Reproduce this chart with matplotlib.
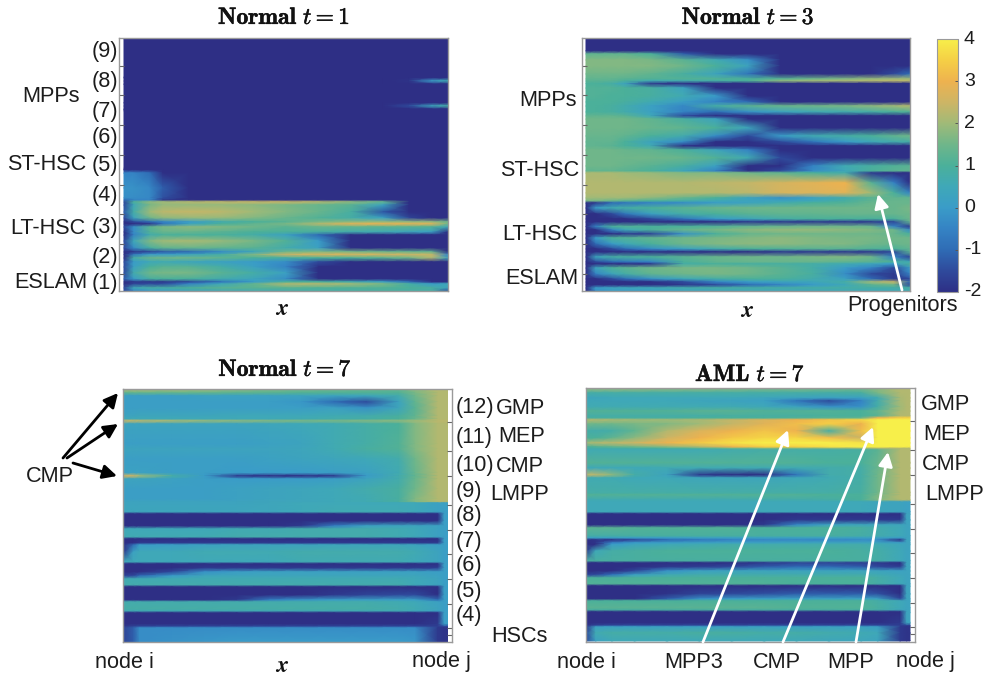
import matplotlib
matplotlib.use('Agg')
import numpy as np
import matplotlib.pyplot as plt
import matplotlib.patheffects as pe
from matplotlib.colors import LinearSegmentedColormap

plt.rcParams['font.family'] = ['Liberation Sans', 'DejaVu Sans']
plt.rcParams['mathtext.fontset'] = 'cm'

# colour scale
cbar_vals = [-2, -1.5, -1, -0.5, 0, 0.5, 1, 1.5, 2, 2.5, 3, 3.5, 4]
cbar_cols = ['#2e2f85', '#2f4a9c', '#2f6cb5', '#3583c4', '#3a9cc8', '#3fa8b8', '#4bb09a',
             '#6fb68a', '#a0ba78', '#cdb565', '#eeb24f', '#f5cf45', '#f7ef4a']
cbar_ticks = [-2, -1, 0, 1, 2, 3, 4]

# t=1 panel: x in % of width, y in px from top
a_x = [0, 3, 8, 12, 20, 30, 40, 50, 60, 70, 80, 88, 95, 100]
a_y = [0, 40, 43, 46, 65, 68, 71, 132, 135, 150, 160, 162, 164, 167, 174, 180, 184, 186, 189, 194,
       197, 203, 210, 214, 216.5, 220, 224, 229, 235, 241, 244, 246, 250, 253]
a_z = [
    [-2, -2, -2, -2, -2, -2, -2, -2, -2, -2, -2, -2, -2, -2],
    [-2, -2, -2, -2, -2, -2, -2, -2, -2, -2, -2, -2, -2, -2],
    [-2, -2, -2, -2, -2, -2, -2, -2, -2, -2, -2, -1.9, 0, 0.6],
    [-2, -2, -2, -2, -2, -2, -2, -2, -2, -2, -2, -2, -2, -2],
    [-2, -2, -2, -2, -2, -2, -2, -2, -2, -2, -2, -2, -2, -2],
    [-2, -2, -2, -2, -2, -2, -2, -2, -2, -2, -2, -1.5, 0.3, 0.8],
    [-2, -2, -2, -2, -2, -2, -2, -2, -2, -2, -2, -2, -2, -2],
    [-2, -2, -2, -2, -2, -2, -2, -2, -2, -2, -2, -2, -2, -2],
    [-0.5, -0.5, -1, -2, -2, -2, -2, -2, -2, -2, -2, -2, -2, -2],
    [-0.2, -0.2, -0.4, -1.2, -2, -2, -2, -2, -2, -2, -2, -2, -2, -2],
    [-0.3, -0.3, -0.4, -1.4, -2, -2, -2, -2, -2, -2, -2, -2, -2, -2],
    [-1, -0.5, -0.5, -1.8, -2, -2, -2, -2, -2, -2, -2, -2, -2, -2],
    [-1.5, 1, 1.8, 2, 2.2, 2.3, 2.4, 2.4, 2.2, 1.8, 1.3, -2, -2, -2],
    [-1.5, 0.5, 1.6, 1.9, 1.9, 1.9, 1.8, 1.6, 1.4, 1.2, 0.3, -2, -2, -2],
    [-1.2, 0.8, 2, 2.3, 2.4, 2.3, 2, 1.7, 1.4, 0.9, -1.3, -2, -2, -2],
    [-1.5, 0.3, 1.5, 1.8, 1.9, 1.9, 1.7, 1.4, 1.1, 0.8, 0.2, -1.6, -2, -2],
    [-2, -1.5, -1, -0.5, 0, 0.7, 1, 1.2, 1.6, 1.8, 1.9, 1.9, 1.9, 1.5],
    [-2, -2, -1.8, -0.8, 0.3, 1, 1.3, 1.6, 2.2, 2.8, 2.9, 2.8, 2.7, 1.5],
    [-1.5, -0.3, 1.2, 1.6, 1.8, 1.7, 1.5, 1.2, 1.4, 1.3, 1.2, 1.2, 1.1, 0.5],
    [-2, -0.3, 1.1, 1.4, 1.4, 1.2, 1, 1, 0.9, 0.7, 0.6, 0.4, 0.2, -2],
    [-2, -0.5, 0.7, 1, 1, 1, 0.8, 0.2, -1, -2, -2, -2, -2, -2],
    [-1.5, 0.5, 1.7, 2, 2.1, 1.9, 1.6, 1.1, 0, -2, -2, -2, -2, -2],
    [-1.5, -0.3, 0.9, 1.3, 1.4, 1.3, 1.2, 0.7, 0.2, -2, -2, -2, -2, -2],
    [-2, -1.8, -1.5, -1.2, -1, -0.3, 0.4, 1.5, 1.7, 1.6, 1.5, 1.4, 1.4, -2],
    [-2, -0.8, 0, 0, 0.3, 0.8, 1.7, 2.5, 2.7, 2.7, 2.6, 2.5, 2.4, -0.5],
    [-2, 0.8, 1.4, 1.5, 1.5, 1.3, 1, 0.8, 1, 1, 1.2, 1.5, 2.2, 0.3],
    [-1.5, 0, 0.5, 0.6, 0.4, 0.2, 0, -0.3, -1.5, -2, -2, -2, -2, -2],
    [-1.5, 0.2, 1, 1.2, 1.2, 0.8, 0.2, -0.5, -2, -2, -2, -2, -2, -2],
    [-1.5, 0.7, 1.5, 1.6, 1.6, 1.2, 0.8, 0.2, -2, -2, -2, -2, -2, -2],
    [-1.2, 0, 0.9, 1, 1, 0.7, 0.4, -0.3, -2, -2, -2, -2, -2, -2],
    [-2, -1.8, -1.8, -1.8, -1.5, -0.8, 0, 1, 1, 0.7, 0.2, -1, -2, -2],
    [-2, -1.6, -1.5, -1.5, -0.5, 0.5, 1.3, 2.2, 2.2, 2, 1.6, 0.8, 0, 0.5],
    [-1.5, 0.5, 0.8, 0.8, 1, 1.2, 1.2, 1.2, 1.1, 1.1, 1.1, 1, 0.9, 0.3],
    [-1.5, -0.5, 0, 0, 0.3, 0.5, 0.6, 0.7, 0.8, 0.8, 0.9, 0.8, 0.8, -1.5],
]

# t=3 panel
b_x = [0, 3, 8, 12, 20, 30, 40, 50, 60, 70, 80, 88, 95, 100]
b_y = [0, 13, 16, 22, 28, 36, 41, 43, 45.5, 50, 58, 64, 68, 74, 78, 81, 90, 98, 104, 108, 112, 120,
       128, 133, 135, 145, 155, 160, 163, 165, 170, 176, 181, 184, 188.5, 192, 196, 200, 206, 211,
       214, 219, 224, 226, 230, 236, 241, 244, 247, 250, 253]
b_z = [
    [-2, -2, -2, -2, -2, -2, -2, -2, -2, -2, -2, -2, -2, -2],
    [-2, -2, -2, -2, -2, -2, -2, -2, -2, -2, -2, -2, -2, -2],
    [1.3, 1.3, 1.3, 1.3, 1, -1.2, -2, -2, -2, -2, -2, -2, -2, -2],
    [1.7, 1.7, 1.7, 1.7, 1.6, 1.2, 0.6, -0.2, -2, -2, -2, -2, -2, -2],
    [1.7, 1.7, 1.7, 1.7, 1.7, 1.5, 1, 0.3, -2, -2, -2, -2, -2, -2],
    [1.5, 1.5, 1.5, 1.5, 1.3, 0.9, 0.3, -0.8, -2, -2, -2, -2, -1.5, -1],
    [1.3, 1.3, 1.3, 1.2, 1.1, 1.1, 1.1, 1, 1.2, 1.5, 1.7, 1.9, 2, 2],
    [1.2, 1.2, 1.2, 1, 0.6, 0.7, 0.8, 1, 1.8, 2, 2.1, 2.2, 2.3, 2.3],
    [1, 1, 0.8, 0.3, -1.8, -2, -2, -2, -2, -2, -2, -2, -2, -2],
    [1.1, 1.1, 1.1, 1, 0.9, 0.3, -2, -2, -2, -2, -2, -2, -2, -2],
    [1.1, 1.1, 1, 1, 0.9, 0.6, 0, -2, -2, -2, -2, -2, -2, -2],
    [1, 1, 1, 0.9, 0.6, 0.1, -0.5, -1, -2, -2, -2, -2, -2, -2],
    [1, 1, 0.9, 0.7, 0.2, -0.4, 0.8, 1.2, 1.4, 1.5, 1.6, 1.8, 2, 2.2],
    [1, 1, 0.9, 0.7, 0.2, -0.5, -1, -0.2, 0.3, 0.6, 0.7, 0.8, 1, 1.1],
    [1.3, 1.3, 1.3, 1.2, 0.5, -1.5, -2, -2, -2, -2, -2, -2, -2, -2],
    [1.5, 1.5, 1.5, 1.5, 1.3, 0.9, 0.3, -2, -2, -2, -2, -2, -2, -2],
    [1.5, 1.5, 1.5, 1.5, 1.4, 1.3, 1, 0.4, -2, -2, -2, -2, -2, -2],
    [1.4, 1.4, 1.4, 1.3, 1, 0.7, -0.3, -1.5, 0, 0.6, 0.8, 1, 1.3, 1.5],
    [1.3, 1.3, 1.3, 1, 0.3, -0.3, -2, -2, -1.5, -0.8, 0, 0.5, 0.7, 0.8],
    [1.3, 1.3, 1.2, 1, 0.6, -2, -2, -2, -2, -2, -2, -2, -2, -2],
    [1.5, 1.5, 1.5, 1.4, 1.3, 1, 0.4, -0.5, -2, -2, -2, -2, -2, -2],
    [1.5, 1.5, 1.5, 1.5, 1.5, 1.4, 1.1, 0.6, -1.5, -2, -2, -2, -2, -2],
    [1.5, 1.5, 1.5, 1.4, 1.2, 0.9, 0.2, -2, -2, -0.5, 0.6, 0.9, 1.1, 1.2],
    [1.3, 1.3, 1.3, 1.2, 1, 0.4, -0.5, -2, -1.5, -0.3, 0.5, 1, 1.2, 1.3],
    [2.1, 2.1, 2.1, 2, 1.9, 1.7, 1.7, 1.5, 1.3, 1, 0.7, -1.8, -2, -2],
    [2.2, 2.2, 2.2, 2.2, 2.2, 2.2, 2.3, 2.4, 2.6, 2.8, 3, 1.2, -0.5, -2],
    [2.2, 2.2, 2.2, 2.2, 2.2, 2.2, 2.2, 2.3, 2.6, 2.7, 2.8, 2, 1, -0.5],
    [2, 2, 2, 2, 1.8, 1.4, 1, 0.3, -0.2, 0.2, 0.7, 1.2, 1.3, 1.3],
    [1.6, 1.6, 1.4, 1.2, 1, 0.8, 0.5, 0.3, 0.3, 0.5, 0.9, 1.3, 1.4, 1.4],
    [-2, -1.8, -1, -0.8, -0.5, -0.3, 0.1, 0.3, 0.7, 1, 1.1, 1.4, 1.4, 1.4],
    [-2, 0, 0.6, 0.8, 1, 1.2, 1.4, 1.5, 1.5, 1.5, 1.5, 1.5, 1.4, 1.6],
    [-2, -2, -1.5, -0.8, 0.2, 0.8, 1, 1.2, 1.3, 1.3, 1.4, 1.4, 1.4, 1.5],
    [-2, -2, -2, -2, -1.5, -0.8, 0, 0.4, 0.8, 1, 1, 1, 1, 1.5],
    [-2, -2, -2, -2, -2, -2, -2, -1.8, -1.8, -1.8, -1.8, -1.8, -1.5, 1.3],
    [-2, -0.5, 1, 1.1, 1, 1, 1.1, 1.3, 1.4, 1.5, 1.5, 1.4, -0.5, -1.8],
    [-2, -2, -0.5, 0.5, 1, 1.4, 1.6, 1.8, 1.9, 1.9, 1.8, 1.7, 1.5, -0.3],
    [-2, -2, -2, -1.8, -1.6, -0.2, 1, 1.4, 1.5, 1.5, 1.5, 1.5, 1.4, 1],
    [-2, 0, 1, 1.1, 1.3, 1.5, 1.6, 1.7, 1.8, 1.7, 1.6, 1.6, 1.5, 1.5],
    [-2, -1, 0, 0.5, 1, 1.5, 1.7, 1.8, 1.8, 1.7, 1.7, 1.5, 1.4, 1.5],
    [-2, -2, -1.5, -1, -0.3, 0.2, 0.7, 1, 1.1, 1.2, 1.2, 1.1, 1, 1.3],
    [-2, -2, -2, -2, -2, -2, -2, -2, -1.8, -1.8, -1.8, -1.8, -1.5, 1.2],
    [-2, 0.3, 0.8, 0.9, 1, 1.2, 1.4, 1.5, 1.5, 1.6, 1.7, 1.5, -0.5, -1.6],
    [-2, -1.5, -1, -0.8, -0.5, 1, 1.3, 1.4, 1.4, 1.4, 1.3, 1.2, 1, 0.5],
    [-2, -2, -2, -2, -1.8, 0.8, 1, 0.9, 0.9, 0.8, 0.6, 0.4, 0, 1],
    [-2, 0.3, 1, 1.2, 1.5, 1.6, 1.6, 1.5, 1.2, 0.8, 0, -0.5, -1.5, 0],
    [-2, -0.5, 0.4, 0.8, 1.3, 1.5, 1.6, 1.5, 1.2, 0.9, -0.3, -1.5, -1.8, -0.5],
    [-2, -2, -1.5, -1, -0.2, 0.5, 0.8, 1, 1, 0.7, 0.2, -1, -1.8, -1.5],
    [-2, -2, -2, -2, -2, -1.5, -0.5, 0, 0.3, 0.4, 0.8, 2, 2.4, -1],
    [-2, -2, -2, -2, -2, -1.8, -1.5, -1, -0.5, 0, 0.5, 1.2, 1.5, -1.5],
    [-2, 0, 0.3, 0.4, 0.5, 0.7, 0.8, 0.8, 0.8, 0.8, 0.8, 0.8, 0.8, 0.8],
    [-2, -0.3, 0, 0, 0.1, 0.2, 0.3, 0.4, 0.4, 0.4, 0.5, 0.5, 0.5, 0.6],
]

# normal t=7 panel
c_x = [0, 3, 5, 15, 25, 35, 45, 55, 65, 75, 85, 90, 97, 99, 100]
c_y = [0, 4, 7, 13, 19, 27, 30, 32, 35, 55, 60, 70, 84, 87, 90, 100, 110, 113, 114, 123, 125, 132,
       137, 140, 148, 150, 154, 156, 163, 173, 175, 179, 183, 187, 190, 196, 198, 206, 211, 213, 220,
       222, 224, 235, 237.5, 239, 253]
c_z = [
    [2.2, 2.2, 2.2, 2.1, 2, 1.8, 1.6, 1.5, 1.4, 1.3, 1.3, 1.8, 2.2, 2.2, 2.2],
    [1.2, 1.3, 1.3, 1.3, 1.3, 1.2, 1.2, 1.1, 1.1, 1.1, 1.1, 1.6, 2.2, 2.2, 2.2],
    [0.1, 0.1, 0.1, 0.1, 0.2, 0.2, 0.2, 0.3, 0.3, 0.4, 0.7, 1.5, 2.2, 2.2, 2.2],
    [0.1, 0.1, 0.1, 0.1, 0.1, 0.1, 0.1, -0.1, -1, -1.5, 0.3, 1.3, 2.2, 2.2, 2.2],
    [0.1, 0.1, 0.1, 0.1, 0.1, 0.1, 0.1, 0.1, 0.2, -0.2, 0.4, 1.2, 2.2, 2.2, 2.2],
    [0.3, 0.3, 0.4, 0.4, 0.4, 0.5, 0.5, 0.5, 0.6, 0.7, 0.9, 1.3, 2.2, 2.2, 2.2],
    [0.5, 0.5, 0.5, 0.5, 0.5, 0.5, 0.5, 0.6, 0.7, 0.8, 1, 1.4, 2.2, 2.2, 2.2],
    [2.4, 2.4, 2.3, 2.1, 1.9, 1.8, 1.7, 1.6, 1.6, 1.7, 1.8, 2, 2.3, 2.3, 2.3],
    [0.3, 0.3, 0.3, 0.3, 0.3, 0.3, 0.4, 0.5, 0.6, 0.8, 1, 1.7, 2.2, 2.2, 2.2],
    [0.1, 0.1, 0.1, 0.1, 0.1, 0.1, 0.2, 0.3, 0.6, 0.8, 1.1, 1.7, 2.2, 2.2, 2.2],
    [0.3, 0.3, 0.3, 0.3, 0.3, 0.3, 0.3, 0.4, 0.6, 0.9, 1.1, 1.7, 2.2, 2.2, 2.2],
    [0.1, 0.1, 0.1, 0.1, 0.1, 0.1, 0.2, 0.3, 0.4, 0.5, 0.7, 1.5, 2.2, 2.2, 2.2],
    [0.2, 0.2, 0.2, 0.1, 0.1, 0, 0, 0, 0.1, 0.2, 0.6, 1.4, 2.2, 2.2, 2.2],
    [2.6, 2.5, 2, 0.8, 0, -1.8, -2, -2, -1.8, 0, 0.7, 1.3, 2.2, 2.2, 2.2],
    [0.3, 0.3, 0.3, 0.2, 0.1, 0, 0, 0, 0.1, 0.3, 0.7, 1.4, 2.2, 2.2, 2.2],
    [0.1, 0.1, 0.1, 0.1, 0.1, 0.2, 0.3, 0.4, 0.5, 0.7, 0.9, 1.5, 2.2, 2.2, 2.2],
    [0.1, 0.1, 0.1, 0.1, 0.1, 0.2, 0.3, 0.4, 0.5, 0.6, 0.9, 1.7, 2.2, 2.2, 2.2],
    [0.3, 0.3, 0.3, 0.3, 0.3, 0.3, 0.4, 0.4, 0.5, 0.6, 0.9, 1.7, 2.2, 2.2, 2.2],
    [0.3, 0.3, 0.3, 0.3, 0.3, 0.3, 0.4, 0.5, 0.5, 0.5, 0.5, 0.5, 0.2, 0.2, 0.2],
    [0.4, 0.4, 0.4, 0.4, 0.4, 0.4, 0.4, 0.5, 0.6, 0.6, 0.6, 0.5, 0.2, 0.1, 0.1],
    [-2, -2, -2, -2, -2, -2, -2, -2, -2, -2, -2, -2, -2, 0.1, 0.1],
    [-2, -2, -2, -2, -2, -2, -2, -2, -2, -2, -2, -2, -2, 0.1, 0.1],
    [-2, -2, -2, -2, -2, -2, -2, -1.8, -0.6, 0.2, 0.3, 0.3, 0.2, 0.1, 0.1],
    [0.5, 0.5, 0.5, 0.5, 0.5, 0.6, 0.6, 0.7, 0.7, 0.7, 0.6, 0.5, 0.2, 0.1, 0.1],
    [0.6, 0.6, 0.6, 0.6, 0.6, 0.7, 0.7, 0.7, 0.7, 0.7, 0.6, 0.5, 0.2, 0.1, 0.1],
    [-2, -2, -2, -2, -2, -2, -2, -2, -2, -2, -2, -2, -2, 0.1, 0.1],
    [-2, -2, -1.8, -1.8, -1.8, -1.8, -1.8, -1.8, -1.8, -1.8, -1.8, -1.8, -1.8, 0.1, 0.1],
    [-2, -1, 0, 0.1, 0.2, 0.3, 0.3, 0.3, 0.4, 0.4, 0.4, 0.3, 0.1, 0.1, 0.1],
    [-1.8, 0.2, 0.5, 0.5, 0.6, 0.6, 0.6, 0.7, 0.7, 0.7, 0.7, 0.6, 0.3, 0.1, 0.1],
    [0.5, 0.5, 0.5, 0.5, 0.5, 0.5, 0.5, 0.6, 0.6, 0.6, 0.6, 0.5, 0.3, 0.1, 0.1],
    [-2, -2, -2, -2, -2, -2, -2, -2, -2, -2, -2, -2, -2, 0.1, 0.1],
    [-2, -2, -2, -2, -1.8, -1.8, -1.8, -1.8, -1.8, -1.8, -1.8, -1.8, -1.7, 0.1, 0.1],
    [-2, -2, -2, -1.5, -0.2, 0.1, 0.2, 0.2, 0.2, 0.2, 0.2, 0.2, 0.1, 0.1, 0.1],
    [-1.5, -1.5, -1, 0, 0.4, 0.4, 0.4, 0.4, 0.4, 0.4, 0.4, 0.4, 0.2, 0.1, 0.1],
    [0.6, 0.6, 0.6, 0.6, 0.6, 0.6, 0.6, 0.6, 0.6, 0.6, 0.6, 0.5, 0.3, 0.1, 0.1],
    [0.7, 0.7, 0.7, 0.7, 0.7, 0.7, 0.7, 0.7, 0.7, 0.7, 0.7, 0.5, 0.3, 0.1, 0.1],
    [-2, -2, -2, -2, -2, -2, -2, -2, -2, -2, -2, -2, -2, 0.1, 0.1],
    [-2, -2, -2, -2, -2, -2, -2, -2, -1.8, -1.6, -1.5, -1.5, -2, 0.1, 0.1],
    [-2, -2, -2, -2, -2, -1.8, -0.6, -0.2, 0, 0.1, 0.1, 0.1, -1, 0.1, 0.1],
    [0.7, 0.7, 0.7, 0.7, 0.7, 0.7, 0.7, 0.7, 0.7, 0.7, 0.6, 0.5, 0.2, 0.1, 0.1],
    [0.8, 0.8, 0.8, 0.8, 0.8, 0.8, 0.8, 0.8, 0.8, 0.8, 0.7, 0.6, 0.3, 0.1, 0.1],
    [0.6, 0.6, 0.6, 0.6, 0.6, 0.6, 0.6, 0.6, 0.6, 0.6, 0.6, 0.5, 0.2, 0.1, 0.1],
    [-2, -2, -2, -2, -2, -2, -2, -2, -2, -2, -2, -2, -2, 0.1, 0.1],
    [-2, -2, -2, -2, -2, -2, -2, -2, -2, -2, -2, -2, -1.8, 0.1, 0.1],
    [-1.8, -1.6, -1.5, -1.5, -1.5, -1.5, -1.5, -1.5, -1.5, -1.5, -1.5, -1.5, -1.7, -1.5, -1.5],
    [-1.6, -1.2, -0.3, -0.3, -0.3, -0.3, -0.3, -0.3, -0.3, -0.3, -0.3, -0.3, -1.8, -1.9, -1.9],
    [-1.6, -1.2, -0.3, -0.2, -0.1, 0, 0, 0, 0, 0, 0, -0.1, -1.8, -1.9, -1.9],
]

# AML t=7 panel
d_x = [0, 3, 8, 15, 25, 35, 45, 55, 65, 75, 85, 90, 97, 99, 100]
d_y = [0, 5, 10, 13, 19, 23, 28, 30, 32, 36, 43, 50, 55, 59, 60.5, 62, 75, 80, 87, 90, 105, 107,
       112, 114, 124, 126, 132, 137, 140, 148, 150, 152, 155, 156.5, 163, 173, 175, 179, 183, 187,
       190, 196, 198, 206, 211, 213, 220, 222, 224, 235, 237.5, 239, 245, 253]
d_z = [
    [2, 2, 2, 2, 1.9, 1.9, 1.8, 1.7, 1.7, 1.6, 1.6, 1.8, 2.2, 2.2, 2.2],
    [0.8, 0.8, 0.8, 0.8, 0.8, 0.8, 0.8, 0.8, 0.8, 0.8, 0.9, 1.6, 2.2, 2.2, 2.2],
    [0.4, 0.4, 0.5, 0.5, 0.5, 0.5, 0.5, 0.4, 0.3, 0.2, 0.2, 0.6, 2.1, 2.2, 2.2],
    [0.5, 0.5, 0.5, 0.5, 0.5, 0.4, 0.3, 0.2, -0.8, -1.5, -0.5, 0.7, 2.1, 2.2, 2.2],
    [0.6, 0.6, 0.6, 0.6, 0.6, 0.6, 0.6, 0.5, 0.3, -0.2, -0.2, 0.8, 2, 2.2, 2.2],
    [1.1, 1.1, 1.1, 1.1, 1.1, 1.2, 1.2, 1.1, 1.1, 1.1, 1, 1.3, 2.1, 2.2, 2.2],
    [0.8, 0.8, 0.8, 0.8, 0.8, 0.8, 0.9, 0.9, 0.9, 1, 1, 1.2, 2.2, 2.2, 2.2],
    [0.9, 0.9, 0.9, 0.9, 0.9, 1, 1, 1, 1.1, 1.2, 1.3, 3, 3.5, 3.5, 3.5],
    [2.2, 2.2, 2.1, 2, 2, 2.1, 2.4, 2.7, 3, 3.3, 3.6, 4, 4, 4, 4],
    [1.5, 1.5, 1.5, 1.6, 1.7, 2, 2.4, 2.8, 3.2, 3.5, 3, 4, 4, 4, 4],
    [0.8, 0.7, 0.8, 1.3, 2.2, 2.7, 3, 3.3, 3, 0.8, 3.2, 4, 4, 4, 4],
    [1, 1, 1.3, 1.8, 2.5, 3, 3.4, 3.6, 3.6, 3.2, 2.5, 4, 4, 4, 4],
    [2, 2.2, 2.3, 2.5, 3, 3.4, 3.8, 4, 4, 4, 3.8, 4, 4, 4, 4],
    [1, 1.1, 1.3, 1.5, 1.8, 2.2, 3, 3.5, 3.5, 3.8, 4, 4, 4, 4, 4],
    [0.8, 0.8, 0.8, 0.9, 1, 1.2, 1.5, 1.7, 1.7, 1.8, 2, 2.2, 2.2, 2.2, 2.2],
    [0.6, 0.6, 0.6, 0.6, 0.6, 0.6, 0.7, 0.8, 0.8, 0.8, 0.9, 1.2, 2.2, 2.2, 2.2],
    [1.1, 1.1, 1.1, 1.1, 1.1, 1.1, 1.1, 1.1, 1.1, 1, 1, 1.4, 2.2, 2.2, 2.2],
    [0.5, 0.5, 0.5, 0.5, 0.6, 0.6, 0.6, 0.6, 0.6, 0.7, 0.8, 1.4, 2.2, 2.2, 2.2],
    [2.3, 2.3, 1.8, 0.8, 0.3, -1.8, -2, -2, -0.8, 0.7, 0.8, 1.5, 2.2, 2.2, 2.2],
    [0.6, 0.6, 0.6, 0.5, 0.5, 0.4, 0.4, 0.4, 0.5, 0.6, 0.8, 1.5, 2.2, 2.2, 2.2],
    [0.8, 0.8, 0.8, 0.8, 0.8, 0.8, 0.8, 0.8, 0.8, 0.8, 0.9, 1.5, 2.2, 2.2, 2.2],
    [1.1, 1.1, 1.1, 1.1, 1.1, 1.1, 1.1, 1.1, 1.1, 1, 1, 1.6, 2.2, 2.2, 2.2],
    [0.6, 0.6, 0.6, 0.6, 0.6, 0.6, 0.6, 0.7, 0.7, 0.8, 1, 1.7, 2.2, 2.2, 2.2],
    [0.5, 0.5, 0.5, 0.5, 0.5, 0.5, 0.5, 0.5, 0.5, 0.5, 0.5, 0.4, 0.3, 0.2, 0.2],
    [0.5, 0.5, 0.5, 0.5, 0.5, 0.5, 0.5, 0.5, 0.5, 0.5, 0.5, 0.4, 0.3, 0.2, 0.2],
    [-2, -2, -2, -2, -2, -2, -2, -2, -2, -2, -2, -2, -2, 0.3, 0.3],
    [-2, -2, -2, -2, -2, -2, -2, -2, -1.8, -1.8, -1.8, -1.8, -1.8, 0.3, 0.3],
    [-2, -2, -2, -2, -2, -2, -2, -1.8, -0.4, 0.3, 0.4, 0.4, 0.4, 0.3, 0.3],
    [1.2, 1.2, 1.2, 1.1, 1.1, 1.1, 1.1, 1, 1, 1, 0.9, 0.7, 0.5, 0.3, 0.3],
    [0.8, 0.8, 0.8, 0.9, 0.9, 0.9, 0.9, 0.9, 0.9, 0.9, 0.8, 0.7, 0.5, 0.3, 0.3],
    [0.2, 0.2, 0.2, 0.1, 0.1, 0.2, 0.2, 0.2, 0.2, 0.2, 0.2, 0.2, 0.1, 0.3, 0.3],
    [-2, -1.9, -1.9, -1.5, -1, -0.7, -0.5, -0.4, -0.4, -0.4, -0.3, -0.3, -1.9, 0.3, 0.3],
    [-2, -1.9, -0.5, 0, 0.1, 0.2, 0.2, 0.2, 0.3, 0.3, 0.3, 0.3, 0.1, 0.3, 0.3],
    [-2, -2, 0, 0.3, 0.5, 0.6, 0.7, 0.7, 0.7, 0.7, 0.7, 0.6, 0.4, 0.3, 0.3],
    [-1.8, 0.5, 0.8, 0.9, 1, 1, 1, 1, 1, 1, 0.9, 0.8, 0.5, 0.3, 0.3],
    [0.9, 0.9, 0.9, 0.9, 0.9, 0.9, 0.9, 0.9, 0.9, 0.9, 0.9, 0.8, 0.5, 0.3, 0.3],
    [-2, -2, -2, -2, -2, -2, -2, -1.8, -1.6, -1.6, -1.7, -1.8, -2, 0.3, 0.3],
    [-2, -2, -2, -2, -1.8, -1.7, -1.5, -1.2, -1, -1, -1.2, -1.5, -1.7, 0.3, 0.3],
    [-2, -2, -2, -1.5, -0.2, 0.2, 0.3, 0.3, 0.3, 0.3, 0.3, 0.3, 0.2, 0.3, 0.3],
    [-1.5, -1.5, -0.8, 0.2, 0.6, 0.7, 0.7, 0.7, 0.7, 0.7, 0.7, 0.6, 0.4, 0.3, 0.3],
    [1, 1, 1, 1, 1, 1, 1, 1, 1, 1, 1, 0.8, 0.5, 0.3, 0.3],
    [1.1, 1.1, 1.1, 1.1, 1.1, 1.1, 1.1, 1.1, 1, 1, 1, 0.8, 0.5, 0.3, 0.3],
    [-2, -2, -2, -2, -2, -2, -2, -2, -2, -2, -2, -2, -2, 0.3, 0.3],
    [-2, -2, -2, -2, -1.9, -1.6, -1.5, -1.4, -1.2, -1.2, -1.2, -1.4, -2, 0.3, 0.3],
    [-2, -2, -2, -2, -1.2, -0.2, 0, 0.1, 0.2, 0.2, 0.2, 0.2, -1.5, 0.3, 0.3],
    [1, 1, 1, 1, 1, 1, 1, 1, 1, 1, 1, 0.8, 0.5, 0.3, 0.3],
    [1.2, 1.2, 1.2, 1.2, 1.2, 1.2, 1.2, 1.2, 1.1, 1.1, 1.1, 0.9, 0.5, 0.3, 0.3],
    [0.9, 0.9, 0.9, 0.9, 0.9, 0.9, 0.9, 0.9, 0.9, 0.9, 0.9, 0.8, 0.4, 0.3, 0.3],
    [-2, -2, -2, -2, -2, -2, -2, -2, -2, -2, -2, -2, -2, 0.3, 0.3],
    [-2, -2, -2, -2, -2, -2, -2, -2, -2, -2, -2, -2, -1.8, 0.3, 0.3],
    [-1.9, -1.6, -1.5, -1.5, -1.5, -1.5, -1.5, -1.5, -1.5, -1.5, -1.5, -1.5, -1.7, -1.6, -1.6],
    [-1.8, 0.2, 0.2, 0.2, 0.2, 0.2, 0.2, 0.2, 0.2, 0.2, 0.2, 0.1, -1.8, -1.9, -1.9],
    [-1.5, 0.6, 0.8, 0.8, 0.8, 0.9, 0.9, 0.8, 0.8, 0.7, 0.6, 0.5, -1.8, -1.9, -1.9],
    [-1.5, 0.2, 0.5, 0.5, 0.5, 0.5, 0.5, 0.5, 0.5, 0.4, 0.4, 0.3, -1.8, -1.9, -1.9],
]

left_ticks = [28, 57.3, 86.7, 116.7, 146.7, 176, 206, 235.7]
right_ticks = [33, 62, 87, 116, 141, 165, 190, 215, 239, 246]

cmap = LinearSegmentedColormap.from_list(
    'parula_ish', [((v + 2) / 6, c) for v, c in zip(cbar_vals, cbar_cols)], N=512)

W, H = 987, 678
fig = plt.figure(figsize=(W / 100, H / 100), dpi=100)
GRAY = '#9a9a9a'
TXT = '#1c1c1c'


def px_axes(x0, x1, y0, y1):
    return fig.add_axes([x0 / W, 1 - y1 / H, (x1 - x0) / W, (y1 - y0) / H])


def panel(box, img_x, xs, ys, zs, ticks, side):
    x0, x1, y0, y1 = box
    ax = px_axes(x0, x1, y0, y1)
    scale = 100 / (img_x[1] - img_x[0])
    ax.set_xlim((x0 - img_x[0]) * scale, (x1 - img_x[0]) * scale)
    ax.set_ylim(y1 - y0, 0)
    mesh = ax.pcolormesh(xs, ys, np.array(zs), cmap=cmap, vmin=-2, vmax=4, shading='gouraud')
    ax.set_xticks([])
    ax.set_yticks(ticks)
    ax.set_yticklabels([])
    if side == 'right':
        ax.yaxis.tick_right()
    ax.tick_params(axis='y', direction='in', length=3.5, width=0.8, color='#666666')
    for s in ax.spines.values():
        s.set_color(GRAY)
        s.set_linewidth(1.0)
    return mesh


mesh = panel((119.5, 448, 38, 291), (124, 448), a_x, a_y, a_z, left_ticks, 'left')
panel((581.7, 910, 38, 291), (586, 910), b_x, b_y, b_z, left_ticks, 'left')
panel((123.5, 452, 389, 642), (123.5, 447.5), c_x, c_y, c_z, right_ticks, 'right')
panel((586, 915, 388, 642), (586, 910), d_x, d_y, d_z, right_ticks, 'right')

# colorbar
cax = px_axes(937, 958, 39, 292)
cb = fig.colorbar(mesh, cax=cax)
cb.set_ticks(cbar_ticks)
cb.set_ticklabels([])
cb.outline.set_edgecolor(GRAY)
cb.outline.set_linewidth(0.8)
cax.tick_params(length=2, width=0.7, color='#555555', direction='in')

# overlay in picture pixels for labels and arrows
ov = fig.add_axes([0, 0, 1, 1], facecolor='none')
ov.set_xlim(0, W)
ov.set_ylim(H, 0)
ov.axis('off')


def label(x, y, s, ha='left', size=15.6, color=TXT):
    ov.text(x, y, s, ha=ha, va='center', fontsize=size, color=color)


def title(x, y, word, num):
    t = ov.text(x, y, r'$\mathbf{%s}\ t=\mathbf{%s}$' % (word, num), ha='center', va='center',
                fontsize=17, color='#111111')
    t.set_path_effects([pe.withStroke(linewidth=0.35, foreground='#111111')])


def xlabel(x, y):
    ov.text(x, y, 'x', ha='center', va='center', fontsize=17, color='#111111',
            family='STIXGeneral', style='italic', weight='bold')


def arrow(start, tip, color):
    ov.annotate('', xy=tip, xytext=start,
                arrowprops=dict(arrowstyle='-|>', color=color, lw=2.0, mutation_scale=21,
                                shrinkA=0, shrinkB=0))


title(284, 18, 'Normal', 1)
title(748, 18, 'Normal', 3)
title(285, 370, 'Normal', 7)
title(750, 375, 'AML', 7)
xlabel(282, 309)
xlabel(747, 311)
xlabel(282, 666)

# panel A labels
for y, s in zip([52, 82, 112, 137, 165, 196, 228, 258, 283],
                ['(9)', '(8)', '(7)', '(6)', '(5)', '(4)', '(3)', '(2)', '(1)']):
    label(118, y, s, ha='right')
label(80, 96, 'MPPs', ha='right')
label(86, 165, 'ST-HSC', ha='right')
label(85, 228, 'LT-HSC', ha='right')
label(87, 283, 'ESLAM', ha='right')

# panel B labels
label(577, 101, 'MPPs', ha='right')
label(579, 170, 'ST-HSC', ha='right')
label(578, 235, 'LT-HSC', ha='right')
label(578, 279, 'ESLAM', ha='right')
label(847, 306, 'Progenitors')
arrow((902, 290), (878, 194), 'white')

# colorbar numbers
for v, y in zip(cbar_ticks, [292, 250, 208, 166, 124, 82, 40]):
    label(964, y, str(v), size=14)

# panel C labels
for y, s in zip([408, 437, 465, 492, 516, 541, 566, 591, 616],
                ['(12)', '(11)', '(10)', '(9)', '(8)', '(7)', '(6)', '(5)', '(4)']):
    label(456, y, s)
label(496, 408, 'GMP')
label(498, 437, 'MEP')
label(496, 466, 'CMP')
label(490, 495, 'LMPP')
label(491, 637, 'HSCs')
label(26, 476, 'CMP')
arrow((63, 458), (118, 393), 'black')
arrow((67, 458), (118, 424), 'black')
arrow((73, 463), (117, 476), 'black')
label(95, 662, 'node i')
label(412, 662, 'node j')

# panel D labels
label(921, 404, 'GMP')
label(923, 435, 'MEP')
label(922, 465, 'CMP')
label(925, 494, 'LMPP')
label(557, 662, 'node i')
label(664, 662, 'MPP3')
label(753, 662, 'CMP')
label(827, 662, 'MPP')
label(896, 662, 'node j')
arrow((703, 642), (788, 430), 'white')
arrow((783, 642), (873, 427), 'white')
arrow((856, 642), (888, 452), 'white')

fig.savefig('out.png', dpi=100)
